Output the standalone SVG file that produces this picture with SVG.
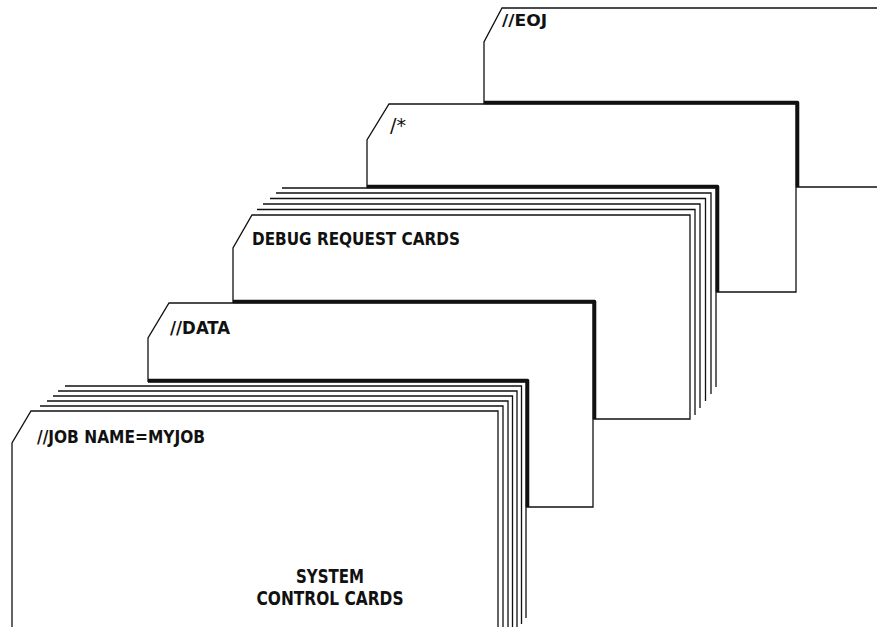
<svg xmlns="http://www.w3.org/2000/svg" width="877" height="627" viewBox="0 0 877 627">
<style>
.card{fill:#fff;stroke:#111;stroke-width:1.3;stroke-linejoin:miter}
.ln{fill:none;stroke:#111;stroke-width:1.3}
.mask{fill:#fff;stroke:none}
.thick{fill:none;stroke:#111;stroke-width:3.6;stroke-linejoin:round}
.t{font-family:"Liberation Sans Narrow","DejaVu Sans Condensed","Liberation Sans",sans-serif;font-stretch:condensed;font-weight:bold;fill:#111}
</style>
<rect width="877" height="627" fill="#fff"/>

<g id="card-eoj">
<polygon class="card" points="502,8 880,8 880,187 484,187 484,42"/>
<text class="t" x="502" y="26" font-size="16" textLength="45" lengthAdjust="spacingAndGlyphs">//EOJ</text>
</g>

<g id="card-end-of-data">
<polygon class="card" points="389,104 796,104 796,292 367,292 367,140"/>
<polyline class="thick" points="484,102.5 797.5,102.5 797.5,187"/>
<text class="t" x="390" y="132" font-size="20" style="font-weight:normal" textLength="16" lengthAdjust="spacingAndGlyphs">/*</text>
</g>

<g id="stack-debug">
<polygon class="mask" points="233,248 252,215 282,188 716,188 716,387 690,419 233,419"/>
<polyline class="ln" points="282,188 716,188 716,387"/>
<polyline class="thick" points="367,186.5 717.5,186.5 717.5,292"/>
<polyline class="ln" points="276,193 711,193 711,394"/>
<polyline class="ln" points="270,198.5 705.5,198.5 705.5,401"/>
<polyline class="ln" points="263,204 700,204 700,408"/>
<polyline class="ln" points="257,209.5 695,209.5 695,415"/>
<polygon class="card" points="252,215 690,215 690,419 233,419 233,248"/>
<text class="t" x="252" y="245" font-size="18.5" textLength="208" lengthAdjust="spacingAndGlyphs">DEBUG REQUEST CARDS</text>
</g>

<g id="card-data">
<polygon class="card" points="169,303 593,303 593,507 148,507 148,338"/>
<polyline class="thick" points="233,301.5 594.5,301.5 594.5,419"/>
<text class="t" x="170" y="334" font-size="17.5" textLength="60" lengthAdjust="spacingAndGlyphs">//DATA</text>
</g>

<g id="stack-job">
<polygon class="mask" points="12,443 31,411 65,386 148,382 526,382 526,618 498,640 12,640"/>
<polyline class="ln" points="148,382 526,382 526,618"/>
<polyline class="thick" points="148,380.5 527.5,380.5 527.5,507"/>
<polyline class="ln" points="65,386 521.5,386 521.5,624"/>
<polyline class="ln" points="58,391 517,391 517,640"/>
<polyline class="ln" points="53,396 512.5,396 512.5,640"/>
<polyline class="ln" points="47,401 508,401 508,640"/>
<polyline class="ln" points="40,406 503,406 503,640"/>
<polygon class="card" points="31,411 498,411 498,640 12,640 12,443"/>
<text class="t" x="37" y="443" font-size="18.5" textLength="168" lengthAdjust="spacingAndGlyphs">//JOB NAME=MYJOB</text>
<text class="t" x="330" y="583" font-size="19" text-anchor="middle" textLength="68" lengthAdjust="spacingAndGlyphs">SYSTEM</text>
<text class="t" x="330" y="605" font-size="19" text-anchor="middle" textLength="147" lengthAdjust="spacingAndGlyphs">CONTROL CARDS</text>
</g>

<g id="connectors"/>
</svg>
